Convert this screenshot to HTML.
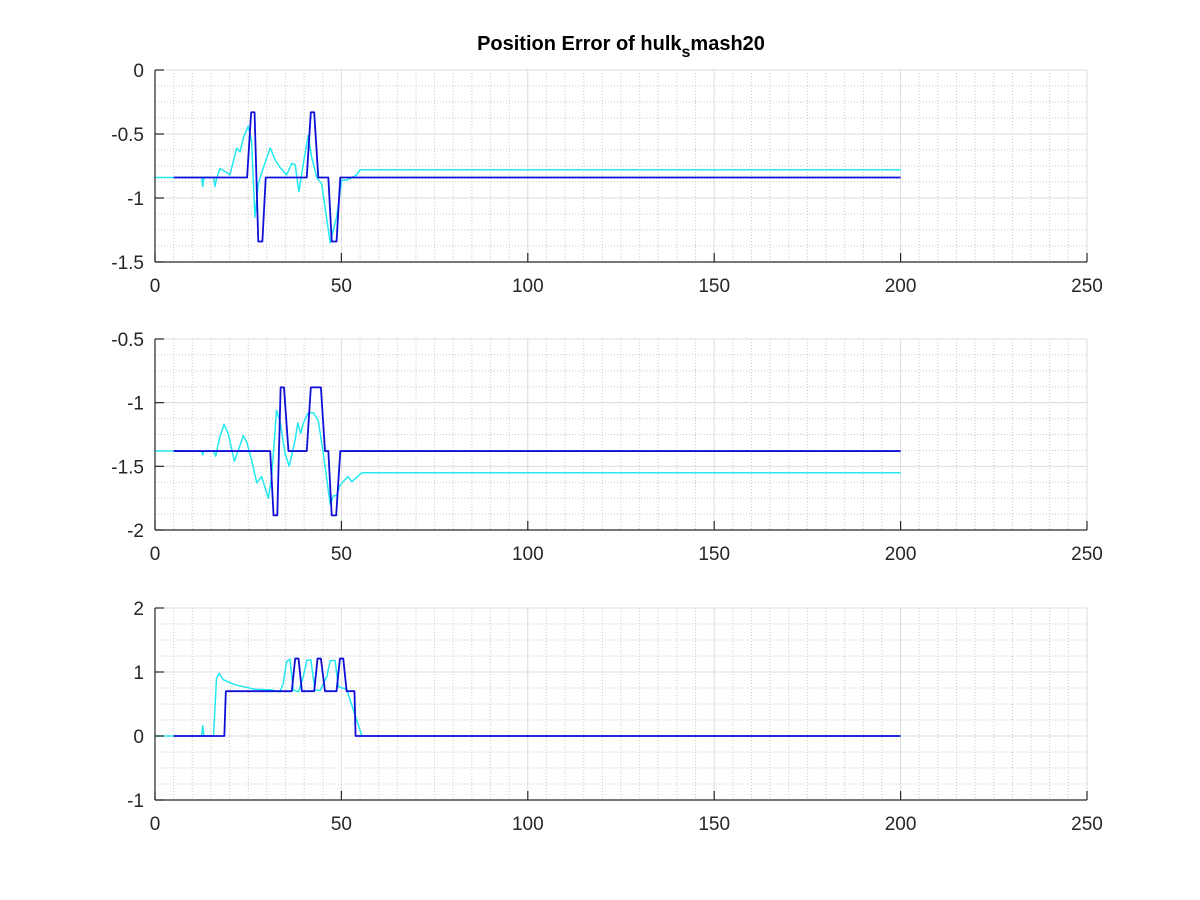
<!DOCTYPE html>
<html><head><meta charset="utf-8"><style>
html,body{margin:0;padding:0;background:#fff;}
svg{display:block;font-family:"Liberation Sans",sans-serif;}
</style></head><body>
<svg id="fig" width="1200" height="900" viewBox="0 0 1200 900" xmlns="http://www.w3.org/2000/svg">
<rect width="1200" height="900" fill="#fff"/>
<text x="621" y="50" text-anchor="middle" font-size="20" font-weight="bold" fill="#000">Position Error of hulk<tspan font-size="16" dy="7">s</tspan><tspan dy="-7">mash20</tspan></text>
</svg>
<script>
// ---- data ----
const xTicks = [0, 50, 100, 150, 200, 250];
const y1Ticks = [0, -0.5, -1, -1.5];
const y2Ticks = [-0.5, -1, -1.5, -2];
const y3Ticks = [2, 1, 0, -1];

const p1BlueX = [5, 24.7, 25.8, 26.7, 27.7, 28.8, 29.7, 40.7, 41.8, 42.7, 43.8, 46.5, 47.4, 48.7, 49.7, 200];
const p1BlueY = [-0.84, -0.84, -0.33, -0.33, -1.34, -1.34, -0.84, -0.84, -0.33, -0.33, -0.84, -0.84, -1.34, -1.34, -0.84, -0.84];
const p1CyanX = [0, 12.5, 12.8, 13.1, 15.7, 16.1, 16.5, 17.4, 19.2, 20.1, 21.9, 22.8, 23.7, 25.0, 25.9, 26.8, 27.7, 29.1, 30.9, 32.2, 33.5, 35.3, 36.7, 37.6, 38.6, 39.8, 41.1, 42.0, 43.4, 44.7, 47.0, 48.7, 50.1, 51.4, 52.8, 54.1, 55.0, 200];
const p1CyanY = [-0.84, -0.84, -0.91, -0.84, -0.84, -0.91, -0.85, -0.77, -0.80, -0.82, -0.61, -0.64, -0.53, -0.44, -0.55, -1.15, -0.89, -0.76, -0.61, -0.70, -0.76, -0.82, -0.73, -0.74, -0.95, -0.73, -0.51, -0.68, -0.84, -0.89, -1.35, -1.15, -0.86, -0.86, -0.84, -0.82, -0.78, -0.78];

const p2BlueX = [5, 30.9, 31.8, 32.8, 33.7, 34.6, 35.8, 40.7, 41.8, 44.5, 45.6, 46.5, 47.4, 48.6, 49.7, 200];
const p2BlueY = [-1.38, -1.38, -1.885, -1.885, -0.88, -0.88, -1.38, -1.38, -0.88, -0.88, -1.38, -1.38, -1.885, -1.885, -1.38, -1.38];
const p2CyanX = [0, 12.5, 12.8, 13.1, 15.7, 16.3, 17.2, 18.5, 19.7, 21.3, 22.4, 23.7, 24.6, 25.9, 27.3, 28.6, 30.4, 31.3, 32.6, 33.5, 34.9, 36.0, 37.6, 38.3, 39.1, 39.8, 41.1, 42.5, 43.8, 45.2, 47.0, 47.9, 48.7, 49.6, 51.7, 52.8, 55.5, 200];
const p2CyanY = [-1.38, -1.38, -1.41, -1.38, -1.38, -1.42, -1.29, -1.17, -1.25, -1.46, -1.37, -1.26, -1.31, -1.45, -1.63, -1.58, -1.75, -1.58, -1.06, -1.14, -1.40, -1.50, -1.29, -1.16, -1.24, -1.16, -1.08, -1.08, -1.14, -1.41, -1.80, -1.73, -1.73, -1.65, -1.58, -1.62, -1.55, -1.55];

const p3BlueX = [5, 18.6, 19.0, 36.7, 37.6, 38.5, 39.4, 42.7, 43.6, 44.5, 45.6, 48.7, 49.6, 50.5, 51.4, 53.5, 53.8, 200];
const p3BlueY = [0, 0, 0.7, 0.7, 1.21, 1.21, 0.7, 0.7, 1.21, 1.21, 0.7, 0.7, 1.21, 1.21, 0.7, 0.7, 0, 0];
const p3CyanX = [0, 12.5, 12.8, 13.1, 15.7, 16.5, 17.2, 18.3, 21.5, 26.8, 31.3, 33.5, 34.4, 35.3, 36.2, 37.1, 38.5, 39.8, 40.7, 41.8, 42.9, 44.3, 46.1, 47.0, 48.3, 49.2, 51.4, 55.5, 200];
const p3CyanY = [0, 0, 0.16, 0, 0, 0.90, 0.98, 0.88, 0.80, 0.73, 0.72, 0.69, 0.82, 1.16, 1.20, 0.72, 0.69, 0.93, 1.18, 1.19, 0.72, 0.71, 0.93, 1.18, 1.18, 0.77, 0.73, 0, 0];

// ---- layout ----
const NS = "http://www.w3.org/2000/svg";
const svg = document.getElementById('fig');
const L = 155, R = 1087;
const panels = [
  {name:'top', top:70, bot:262, ymin:-1.5, ymax:0, ticks:y1Ticks, step:0.5, bx:p1BlueX, by:p1BlueY, cx:p1CyanX, cy:p1CyanY},
  {name:'middle', top:339, bot:530, ymin:-2, ymax:-0.5, ticks:y2Ticks, step:0.5, bx:p2BlueX, by:p2BlueY, cx:p2CyanX, cy:p2CyanY},
  {name:'bottom', top:608, bot:800, ymin:-1, ymax:2, ticks:y3Ticks, step:1, bx:p3BlueX, by:p3BlueY, cx:p3CyanX, cy:p3CyanY}
];
function mk(tag, attrs, parent){ const e=document.createElementNS(NS,tag); for(const k in attrs) e.setAttribute(k,attrs[k]); parent.appendChild(e); return e; }
const xs = v => L + (v - 0) / 250 * (R - L);

panels.forEach(p => {
  const ys = v => p.bot - (v - p.ymin) / (p.ymax - p.ymin) * (p.bot - p.top);
  const g = mk('g', {}, svg);
  
  
  const mg = mk('g', {stroke:'#c8c8c8','stroke-width':1,'stroke-dasharray':'1 2'}, g);
  
  
  for (let v = 0; v <= 250; v += 5) { if (v % 50 === 0) continue; mk('line',{x1:xs(v),x2:xs(v),y1:p.top,y2:p.bot},mg); }
  const ms = p.step/4;
  for (let i = 0; ; i++) { const v = p.ymin + i*ms; if (v > p.ymax + 1e-9) break; if (i % 4 === 0) continue; mk('line',{x1:L,x2:R,y1:ys(v),y2:ys(v)},mg); }
  const gg = mk('g', {stroke:'#dcdcdc','stroke-width':1}, g);
  
  
  xTicks.forEach(v => mk('line',{x1:xs(v),x2:xs(v),y1:p.top,y2:p.bot},gg));
  p.ticks.forEach(v => mk('line',{x1:L,x2:R,y1:ys(v),y2:ys(v)},gg));
  const line = (X,Y,col,w,nm) => {
    const d = X.map((x,i)=>(i?'L':'M')+xs(x).toFixed(2)+' '+ys(Y[i]).toFixed(2)).join(' ');
    const e = mk('path',{d:d,fill:'none',stroke:col,'stroke-width':w,'stroke-linejoin':'round'},g);
    
    
  };
  line(p.cx,p.cy,'#22e8f0',1.5,p.name+'-cyan-line');
  line(p.bx,p.by,'#0f0fd8',1.8,p.name+'-blue-line');
  const ax = mk('g',{stroke:'#262626','stroke-width':1.2},g);
  
  
  mk('line',{x1:L,x2:R,y1:p.bot,y2:p.bot},ax);
  mk('line',{x1:L,x2:L,y1:p.top,y2:p.bot},ax);
  xTicks.forEach(v => mk('line',{x1:xs(v),x2:xs(v),y1:p.bot,y2:p.bot-9},ax));
  p.ticks.forEach(v => mk('line',{x1:L,x2:L+9,y1:ys(v),y2:ys(v)},ax));
  xTicks.forEach(v => {
    const t = mk('text',{x:xs(v),y:p.bot+30,'text-anchor':'middle','font-size':19,fill:'#262626'},g);
    t.textContent = v;
    
    
  });
  p.ticks.forEach(v => {
    const t = mk('text',{x:L-11,y:ys(v)+7,'text-anchor':'end','font-size':19,fill:'#262626'},g);
    t.textContent = v;
    
    
  });
});
</script>
</body></html>
